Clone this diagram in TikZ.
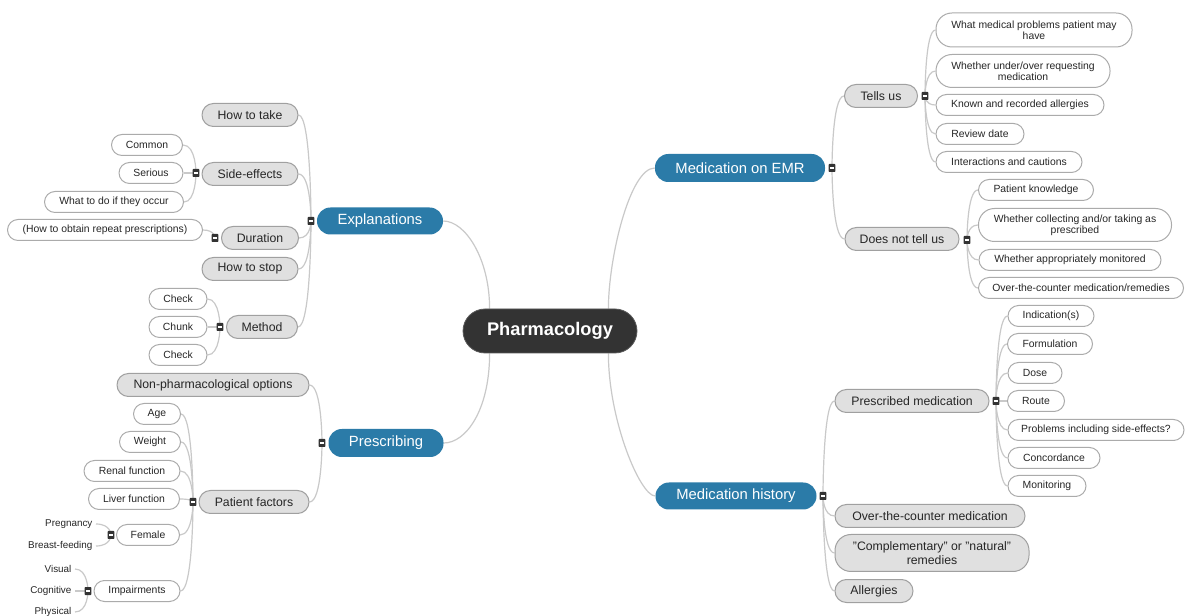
\documentclass[tikz,border=0pt]{standalone}
\usepackage{fontspec}
\setmainfont{Liberation Sans}
\usetikzlibrary{calc}
\definecolor{bluec}{HTML}{2B7BA8}
\definecolor{rootc}{HTML}{333333}
\definecolor{grayf}{HTML}{E0E0E0}
\definecolor{grayd}{HTML}{A0A0A0}
\definecolor{whited}{HTML}{ABABAB}
\definecolor{linec}{HTML}{C9C9C9}
\definecolor{txtc}{HTML}{262626}
\definecolor{mkc}{HTML}{333333}
\pgfdeclarelayer{bg}
\pgfsetlayers{bg,main}
\newcommand{\LeftConn}[2]{\draw[conn] (#1.east) .. controls (#1.east -| #2) and (#2) .. (#2);}
\newcommand{\RightConn}[2]{\draw[conn] (#1) .. controls (#1) and (#1 |- #2.west) .. (#2.west);}
\begin{document}
\begin{tikzpicture}[x=0.75pt,y=-0.75pt,
  sz/.style 2 args={minimum width=#1*0.75pt, minimum height=#2*0.75pt},
  base/.style={inner sep=0pt, align=center, text=txtc},
  rootn/.style={base, fill=rootc, draw=gray!70!black, line width=0.6pt, text=white, font=\fontsize{13.7}{16}\selectfont\bfseries, rounded corners=16.5pt},
  bluen/.style={base, fill=bluec, text=white, font=\fontsize{11.1}{13}\selectfont, rounded corners=10pt},
  grayn/.style={base, fill=grayf, draw=grayd, line width=0.75pt, font=\fontsize{9.2}{10.8}\selectfont, rounded corners=8.6pt},
  grayt/.style={grayn, rounded corners=12pt},
  whiten/.style={base, fill=white, draw=whited, line width=0.75pt, font=\fontsize{7.8}{8.4}\selectfont, rounded corners=7.9pt},
  whitet/.style={whiten, rounded corners=12pt},
  plainn/.style={base, inner xsep=2.5pt, inner ysep=1pt, font=\fontsize{7.4}{9}\selectfont},
  mk/.style={fill=mkc, inner sep=0pt, minimum width=5.2pt, minimum height=6pt, rounded corners=0.6pt,
    path picture={\draw[white, line width=0.8pt] ([xshift=-1.6pt]path picture bounding box.center) -- ([xshift=1.6pt]path picture bounding box.center);}},
  conn/.style={draw=linec, line width=0.9pt},
]
\useasboundingbox (0,0) rectangle (1186,616);
% root and main topics
\node[rootn, sz={174}{44}] (root) at (550,331) {Pharmacology};
\node[bluen, sz={126}{27}] (expl) at (380,221) {Explanations};
\node[bluen, sz={115}{28}] (presc) at (386,443) {Prescribing};
\node[bluen, sz={170}{28}] (emr) at (740,168) {Medication on EMR};
\node[bluen, sz={161}{27}] (hist) at (736,496) {Medication history};
% Explanations subtree
\node[grayn, sz={96}{23}] (take) at (250,115) {How to take};
\node[grayn, sz={96}{23}] (side) at (250,174) {Side-effects};
\node[grayn, sz={77}{23}] (dur) at (260,238) {Duration};
\node[grayn, sz={96}{23}] (stop) at (250,269) {How to stop};
\node[grayn, sz={71}{23}] (meth) at (262,327) {Method};
\node[whiten, sz={71}{21}] (common) at (147,145) {Common};
\node[whiten, sz={64}{21}] (serious) at (151,173) {Serious};
\node[whiten, sz={139}{21}] (whatdo) at (114,202) {What to do if they occur};
\node[whiten, sz={195}{21}] (repeat) at (105,230) {(How to obtain repeat prescriptions)};
\node[whiten, sz={58}{21}] (checka) at (178,299) {Check};
\node[whiten, sz={58}{21}] (chunk) at (178,327) {Chunk};
\node[whiten, sz={58}{21}] (checkb) at (178,355) {Check};
% Prescribing subtree
\node[grayn, sz={192}{23}] (nonph) at (213,385) {Non-pharmacological options};
\node[grayn, sz={110}{23}] (pf) at (254,502) {Patient factors};
\node[whiten, sz={47}{21}] (age) at (157,414) {Age};
\node[whiten, sz={61}{21}] (weight) at (150,442) {Weight};
\node[whiten, sz={96}{21}] (renal) at (132,471) {Renal function};
\node[whiten, sz={91}{21}] (liver) at (134,499) {Liver function};
\node[whiten, sz={63}{21}] (female) at (148,535) {Female};
\node[whiten, sz={86}{21}] (impair) at (137,591) {Impairments};
\node[plainn, anchor=east] (preg) at (96,524) {Pregnancy};
\node[plainn, anchor=east] (bfeed) at (96,546) {Breast-feeding};
\node[plainn, anchor=east] (visual) at (75,569) {Visual};
\node[plainn, anchor=east] (cognit) at (75,591) {Cognitive};
\node[plainn, anchor=east] (phys) at (75,612) {Physical};
% Medication on EMR subtree
\node[grayn, sz={73}{23}] (tells) at (881,96) {Tells us};
\node[grayn, sz={114}{23}] (dnt) at (902,239) {Does not tell us};
\node[whitet, sz={196}{34}] (wmp) at (1034,30) {What medical problems patient may\\have};
\node[whitet, sz={174}{33}] (wuo) at (1023,71) {Whether under/over requesting\\medication};
\node[whiten, sz={168}{21}] (kra) at (1020,105) {Known and recorded allergies};
\node[whiten, sz={88}{21}] (rev) at (980,134) {Review date};
\node[whiten, sz={146}{21}] (inter) at (1009,162) {Interactions and cautions};
\node[whiten, sz={115}{21}] (pk) at (1036,190) {Patient knowledge};
\node[whitet, sz={193}{33}] (wcol) at (1075,225) {Whether collecting and/or taking as\\prescribed};
\node[whiten, sz={182}{21}] (wam) at (1070,260) {Whether appropriately monitored};
\node[whiten, sz={205}{21}] (otcm) at (1081,288) {Over-the-counter medication/remedies};
% Medication history subtree
\node[grayn, sz={154}{23}] (pm) at (912,401) {Prescribed medication};
\node[grayn, sz={190}{23}] (otc) at (930,516) {Over-the-counter medication};
\node[grayt, sz={194}{37}] (comp) at (932,553) {"Complementary" or "natural"\\remedies};
\node[grayn, sz={78}{23}] (allg) at (874,591) {Allergies};
\node[whiten, sz={86}{21}] (ind) at (1051,316) {Indication(s)};
\node[whiten, sz={85}{21}] (form) at (1050,344) {Formulation};
\node[whiten, sz={54}{21}] (dose) at (1035,373) {Dose};
\node[whiten, sz={57}{21}] (route) at (1036,401) {Route};
\node[whiten, sz={176}{21}] (prob) at (1096,430) {Problems including side-effects?};
\node[whiten, sz={92}{21}] (conc) at (1054,458) {Concordance};
\node[whiten, sz={78}{21}] (mon) at (1047,486) {Monitoring};
% collapse markers
\node[mk] (mExp) at (311,221) {};
\node[mk] (mSide) at (196,173) {};
\node[mk] (mDur) at (215,238) {};
\node[mk] (mMeth) at (220,327) {};
\node[mk] (mPresc) at (322,443) {};
\node[mk] (mPF) at (193,502) {};
\node[mk] (mFem) at (111,535) {};
\node[mk] (mImp) at (88,591) {};
\node[mk] (mEMR) at (832,168) {};
\node[mk] (mTells) at (925,96) {};
\node[mk] (mDNT) at (967,240) {};
\node[mk] (mPM) at (996,401) {};
\node[mk] (mHist) at (823,496) {};
% connectors
\begin{pgfonlayer}{bg}
\fill[white] (0,0) rectangle (1186,616);
\draw[conn] (expl.east) .. controls +(22,0) and +(0,-50) .. ([xshift=20.25pt]root.north west);
\draw[conn] (presc.east) .. controls +(22,0) and +(0,57) .. ([xshift=20.25pt]root.south west);
\draw[conn] (emr.west) .. controls +(-25,0) and +(0,-50) .. ([xshift=-21.75pt]root.north east);
\draw[conn] (hist.west) .. controls +(-15,0) and +(0,67) .. ([xshift=-21.75pt]root.south east);
\foreach \c in {take,side,dur,stop,meth} {\LeftConn{\c}{mExp}}
\foreach \c in {common,serious,whatdo} {\LeftConn{\c}{mSide}}
\LeftConn{repeat}{mDur}
\foreach \c in {checka,chunk,checkb} {\LeftConn{\c}{mMeth}}
\foreach \c in {nonph,pf} {\LeftConn{\c}{mPresc}}
\foreach \c in {age,weight,renal,liver,female,impair} {\LeftConn{\c}{mPF}}
\foreach \c in {preg,bfeed} {\LeftConn{\c}{mFem}}
\foreach \c in {visual,cognit,phys} {\LeftConn{\c}{mImp}}
\foreach \c in {tells,dnt} {\RightConn{mEMR}{\c}}
\foreach \c in {wmp,wuo,kra,rev,inter} {\RightConn{mTells}{\c}}
\foreach \c in {pk,wcol,wam,otcm} {\RightConn{mDNT}{\c}}
\foreach \c in {pm,otc,comp,allg} {\RightConn{mHist}{\c}}
\foreach \c in {ind,form,dose,route,prob,conc,mon} {\RightConn{mPM}{\c}}
\end{pgfonlayer}
\end{tikzpicture}
\end{document}
